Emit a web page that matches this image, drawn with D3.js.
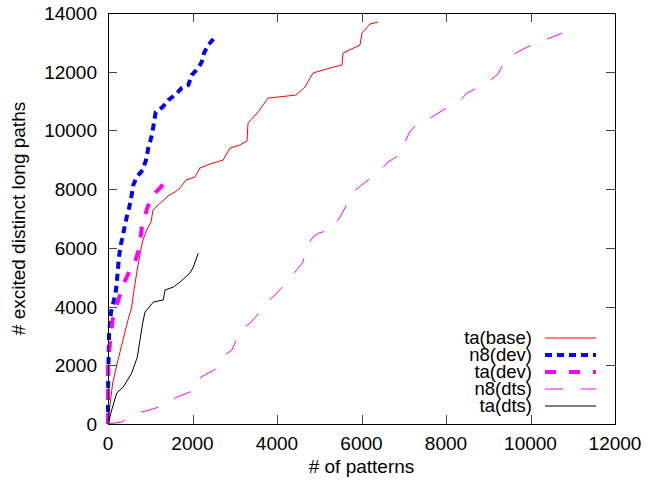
<!DOCTYPE html>
<html>
<head>
<meta charset="utf-8">
<script src="https://cdn.jsdelivr.net/npm/d3@7"></script>
<style>
  html, body { margin: 0; padding: 0; background: #fff; }
  svg { display: block; }
  text { font-family: "Liberation Sans", Arial, sans-serif; }
</style>
</head>
<body>
<svg id="chart" width="648" height="485"></svg>
<script>
// ---- data (x = # of patterns, y = # excited distinct long paths) ----
const xTicks = [0, 2000, 4000, 6000, 8000, 10000, 12000];
const yTicks = [0, 2000, 4000, 6000, 8000, 10000, 12000, 14000];
const seriesNames = ["ta(base)", "n8(dev)", "ta(dev)", "n8(dts)", "ta(dts)"];

const taBase = [[0,0],[47,650],[111,1400],[237,2180],[355,2860],[473,3540],[561,3985],[615,4560],[679,5140],[774,5925],[828,6265],[916,6610],[1018,6880],[1065,7290],[1160,7425],[1349,7665],[1420,7765],[1586,7900],[1704,8040],[1846,8310],[2059,8415],[2178,8720],[2414,8855],[2722,8990],[2888,9400],[3124,9505],[3290,9640],[3314,10250],[3551,10630],[3787,11100],[4450,11205],[4663,11480],[4852,11955],[5255,12125],[5539,12230],[5562,12635],[5965,12910],[6012,13315],[6201,13625],[6391,13690]];

const n8Dev = [[0,0],[0,990],[12,2180],[24,3030],[71,3815],[142,4225],[189,4565],[213,4905],[237,5315],[260,5690],[301,6095],[355,6440],[402,6780],[443,7050],[504,7390],[561,7800],[599,8140],[679,8415],[821,8650],[899,8990],[954,9400],[994,9605],[1049,9910],[1089,10285],[1129,10625],[1295,10800],[1427,11035],[1586,11205],[1744,11445],[1901,11545],[1981,11885],[2137,12125],[2218,12330],[2272,12635],[2374,12910],[2533,13180]];

const taDev = [[0,0],[0,1500],[0,2080],[47,2760],[71,3100],[107,3540],[230,4155],[355,4735],[544,5315],[639,5520],[741,5995],[798,6675],[821,6830],[916,7290],[1011,7700],[1112,7870],[1231,8040],[1349,8245],[1468,8415]];

const n8Dts = [[0,0],[331,70],[592,340],[994,480],[1349,650],[1633,920],[1941,1090],[1988,1395],[2249,1635],[2556,1875],[2698,2280],[2935,2520],[3124,3170],[3361,3440],[3574,3780],[3764,4155],[3953,4395],[4213,4800],[4426,5175],[4616,5520],[4710,6065],[4852,6370],[4994,6505],[5302,6640],[5491,7050],[5633,7425],[5775,7870],[6154,8310],[6414,8585],[6628,8925],[6888,9160],[7125,9910],[7338,10285],[7669,10455],[7929,10695],[8285,10935],[8498,11275],[8782,11480],[8995,11650],[9231,11920],[9373,12330],[9610,12600],[9918,12840],[10273,13045],[10581,13215],[10746,13315]];

const taDts = [[0,0],[88,475],[206,1055],[362,1260],[561,1735],[694,2280],[757,2860],[821,3440],[876,3815],[978,3985],[1072,4155],[1309,4225],[1349,4565],[1546,4665],[1704,4835],[1941,5145],[2019,5345],[2137,5825]];

// ---- layout ----
const svg = d3.select("#chart");
const L = 108, R = 615, T = 13, B = 424;
const FS = 19;
const x = d3.scaleLinear().domain([0, 12000]).range([L, R]);
const y = d3.scaleLinear().domain([0, 14000]).range([B, T]);

const styles = [
  { data: taBase, color: "#ff0000", width: 1,   dash: null },
  { data: n8Dev,  color: "#0000ff", width: 4,   dash: "7,5" },
  { data: taDev,  color: "#ff00ff", width: 4,   dash: "11,13" },
  { data: n8Dts,  color: "#ff00ff", width: 1,   dash: "18,18" },
  { data: taDts,  color: "#000000", width: 1,   dash: null }
];

// ticks (inside, mirrored)
const tickLen = 9;
const tg = svg.append("g").attr("stroke", "#444").attr("stroke-width", 1);
xTicks.forEach(v => {
  const px = Math.round(x(v)) + 0.5;
  tg.append("line").attr("x1", px).attr("x2", px).attr("y1", B).attr("y2", B - tickLen);
  tg.append("line").attr("x1", px).attr("x2", px).attr("y1", T).attr("y2", T + tickLen);
});
yTicks.forEach(v => {
  const py = Math.round(y(v)) + 0.5;
  tg.append("line").attr("x1", L).attr("x2", L + tickLen).attr("y1", py).attr("y2", py);
  tg.append("line").attr("x1", R).attr("x2", R - tickLen).attr("y1", py).attr("y2", py);
});

// tick labels
svg.append("g").selectAll("text").data(xTicks).join("text")
  .attr("x", d => x(d)).attr("y", B + 26)
  .attr("text-anchor", "middle").attr("font-size", FS).attr("fill", "#000")
  .text(d => d);
svg.append("g").selectAll("text").data(yTicks).join("text")
  .attr("x", L - 11).attr("y", d => y(d) + 7)
  .attr("text-anchor", "end").attr("font-size", FS).attr("fill", "#000")
  .text(d => d);

// axis titles
svg.append("text").attr("x", (L + R) / 2).attr("y", 473)
  .attr("text-anchor", "middle").attr("font-size", FS).text("# of patterns");
svg.append("text").attr("transform", `translate(25,${(T + B) / 2}) rotate(-90)`)
  .attr("text-anchor", "middle").attr("font-size", FS).text("# excited distinct long paths");

// lines
const line = d3.line().x(d => x(d[0])).y(d => y(d[1]));
const lg = svg.append("g");
styles.forEach(s => {
  lg.append("path").datum(s.data)
    .attr("d", line)
    .attr("fill", "none")
    .attr("stroke", s.color)
    .attr("stroke-width", s.width)
    .attr("stroke-dasharray", s.dash)
    .attr("stroke-linejoin", "miter");
});

// frame
svg.append("rect").attr("x", L + 0.5).attr("y", T + 0.5)
  .attr("width", R - L).attr("height", B - T)
  .attr("fill", "none").attr("stroke", "#000").attr("stroke-width", 1);

// legend
const lgd = svg.append("g");
const legTop = 338, legStep = 17;
seriesNames.forEach((name, i) => {
  const cy = legTop + i * legStep;
  lgd.append("text").attr("x", 532).attr("y", cy + 6)
    .attr("text-anchor", "end").attr("font-size", 18.5).text(name);
  lgd.append("line").attr("x1", 545).attr("x2", 596).attr("y1", cy).attr("y2", cy)
    .attr("stroke", styles[i].color).attr("stroke-width", styles[i].width)
    .attr("stroke-dasharray", styles[i].dash);
});
</script>
</body>
</html>
